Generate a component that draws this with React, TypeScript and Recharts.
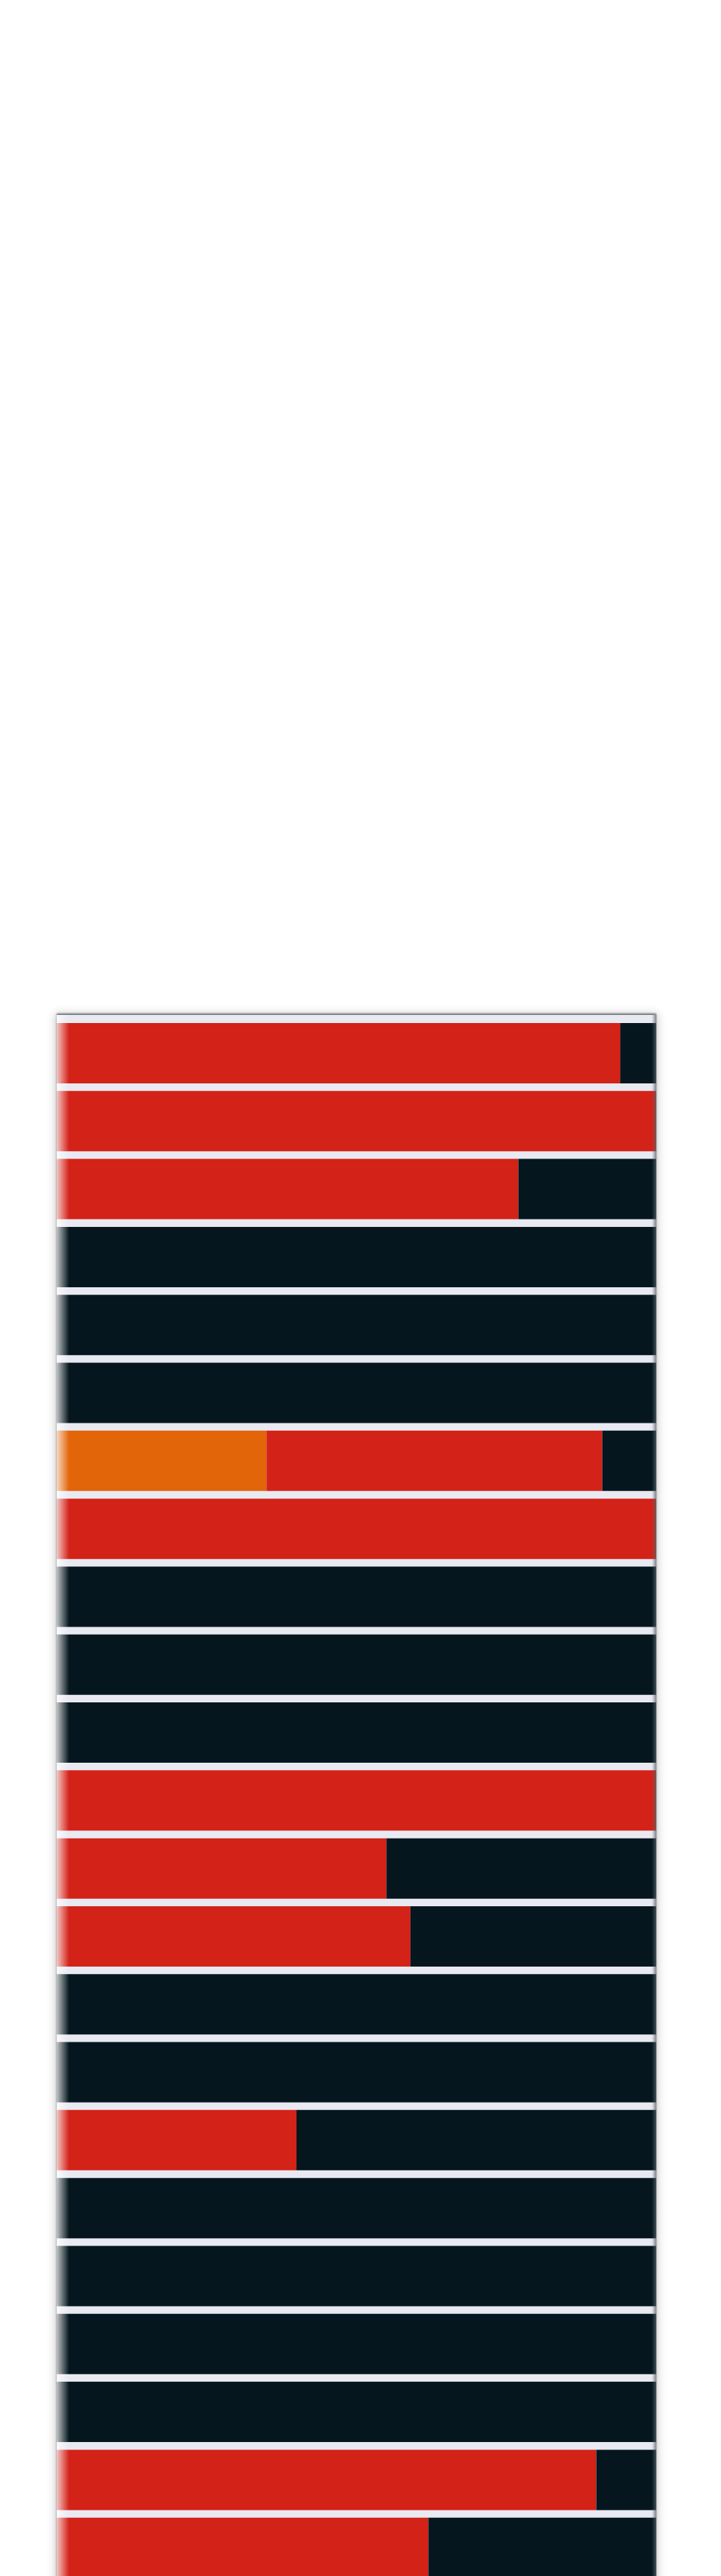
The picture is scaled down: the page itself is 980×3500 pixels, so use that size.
import { BarChart, Bar, XAxis, YAxis } from "recharts"

const rows = [
  "R1", "R2", "R3", "R4", "R5", "R6", "R7", "R8", "R9", "R10", "R11", "R12",
  "R13", "R14", "R15", "R16", "R17", "R18", "R19", "R20", "R21", "R22", "R23",
]
const orangeValues = [0, 0, 0, 0, 0, 0, 35, 0, 0, 0, 0, 0, 0, 0, 0, 0, 0, 0, 0, 0, 0, 0, 0]
const redValues = [94, 100, 77, 0, 0, 0, 56, 100, 0, 0, 0, 100, 55, 59, 0, 0, 40, 0, 0, 0, 0, 90, 62]
const darkValues = [6, 0, 23, 100, 100, 100, 9, 0, 100, 100, 100, 0, 45, 41, 100, 100, 60, 100, 100, 100, 100, 10, 38]

const data = rows.map((row, i) => ({
  row,
  orange: orangeValues[i],
  red: redValues[i],
  dark: darkValues[i],
}))

export default function App() {
  return (
    <div
      style={{
        position: "absolute",
        top: 1379,
        left: 77,
        width: 815,
        height: 2160,
        background: "#e9e9f2",
        boxShadow: "0 -2px 2px rgba(60,70,75,0.7), 0 0 12px 2px rgba(0,0,0,0.2)",
      }}
    >
      <BarChart
        layout="vertical"
        width={815}
        height={2129}
        data={data}
        margin={{ top: 6, right: 0, bottom: 0, left: 0 }}
        barCategoryGap={5}
      >
        <XAxis type="number" domain={[0, 100]} hide />
        <YAxis type="category" dataKey="row" hide />
        <Bar dataKey="orange" stackId="a" fill="#e2650a" isAnimationActive={false} />
        <Bar dataKey="red" stackId="a" fill="#d32218" isAnimationActive={false} />
        <Bar dataKey="dark" stackId="a" fill="#05161e" isAnimationActive={false} />
      </BarChart>
      <div
        style={{
          position: "absolute",
          top: 0,
          left: 0,
          width: 17,
          height: "100%",
          pointerEvents: "none",
          background: "linear-gradient(to right, rgba(255,255,255,0.75), rgba(255,255,255,0))",
        }}
      />
      <div
        style={{
          position: "absolute",
          top: 0,
          right: 0,
          width: 6,
          height: "100%",
          pointerEvents: "none",
          background: "linear-gradient(to right, rgba(90,100,105,0), rgba(90,100,105,0.75))",
        }}
      />
    </div>
  )
}
